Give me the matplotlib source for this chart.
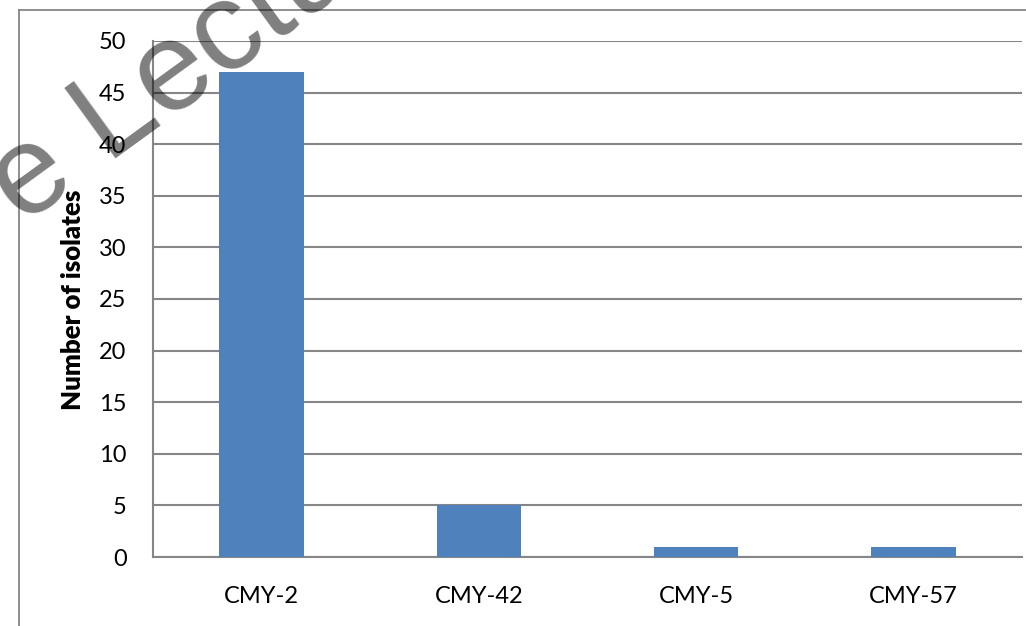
import matplotlib
matplotlib.use("Agg")
import matplotlib.pyplot as plt
from matplotlib.lines import Line2D

# Isolate counts per CMY variant
categories = ["CMY-2", "CMY-42", "CMY-5", "CMY-57"]
isolates = [47, 5, 1, 1]
y_ticks = [0, 5, 10, 15, 20, 25, 30, 35, 40, 45, 50]

W, H, DPI = 1026, 626, 100
grid_gray = "#868686"
bar_blue = "#4F81BD"

plt.rcParams["font.family"] = ["Lato", "DejaVu Sans"]

fig = plt.figure(figsize=(W / DPI, H / DPI), dpi=DPI)
fig.patch.set_facecolor("white")

ax = fig.add_axes([153 / W, 1 - 557 / H, (1022 - 153) / W, (557 - 41) / H])
x = list(range(len(categories)))
ax.bar(x, isolates, width=0.39, color=bar_blue, zorder=3)

ax.set_xlim(-0.5, len(categories) - 0.5)
ax.set_ylim(0, 50)
ax.set_yticks(y_ticks)
ax.set_yticklabels([str(t) for t in y_ticks], fontsize=17)
ax.set_xticks(x)
ax.set_xticklabels(categories, fontsize=17)
ax.tick_params(axis="both", length=0, colors="black")
ax.tick_params(axis="y", pad=19)
ax.tick_params(axis="x", pad=21)

ax.yaxis.grid(True, color=grid_gray, linewidth=1.5, zorder=1)
ax.set_axisbelow(True)
for side in ("top", "right"):
    ax.spines[side].set_visible(False)
for side in ("left", "bottom"):
    ax.spines[side].set_color(grid_gray)
    ax.spines[side].set_linewidth(1.5)

ax.set_ylabel("Number of isolates", fontsize=18.5, fontweight="heavy")
ax.yaxis.set_label_coords(-(153 - 85) / (1022 - 153), (557 - 300) / (557 - 41))

# Chart frame
fig.add_artist(Line2D([19 / W, 19 / W], [0, 1 - 10 / H], transform=fig.transFigure,
                      color=grid_gray, linewidth=1.3))
fig.add_artist(Line2D([19 / W, 1], [1 - 10 / H, 1 - 10 / H], transform=fig.transFigure,
                      color=grid_gray, linewidth=1.3))

# Watermark
fig.text(22 / W, 1 - 226 / H, "e Lecture", fontsize=91, family="Liberation Sans",
         color="black", alpha=0.5, rotation=36, rotation_mode="anchor",
         ha="left", va="baseline", zorder=10)

fig.savefig("out.png", dpi=DPI, facecolor="white")
